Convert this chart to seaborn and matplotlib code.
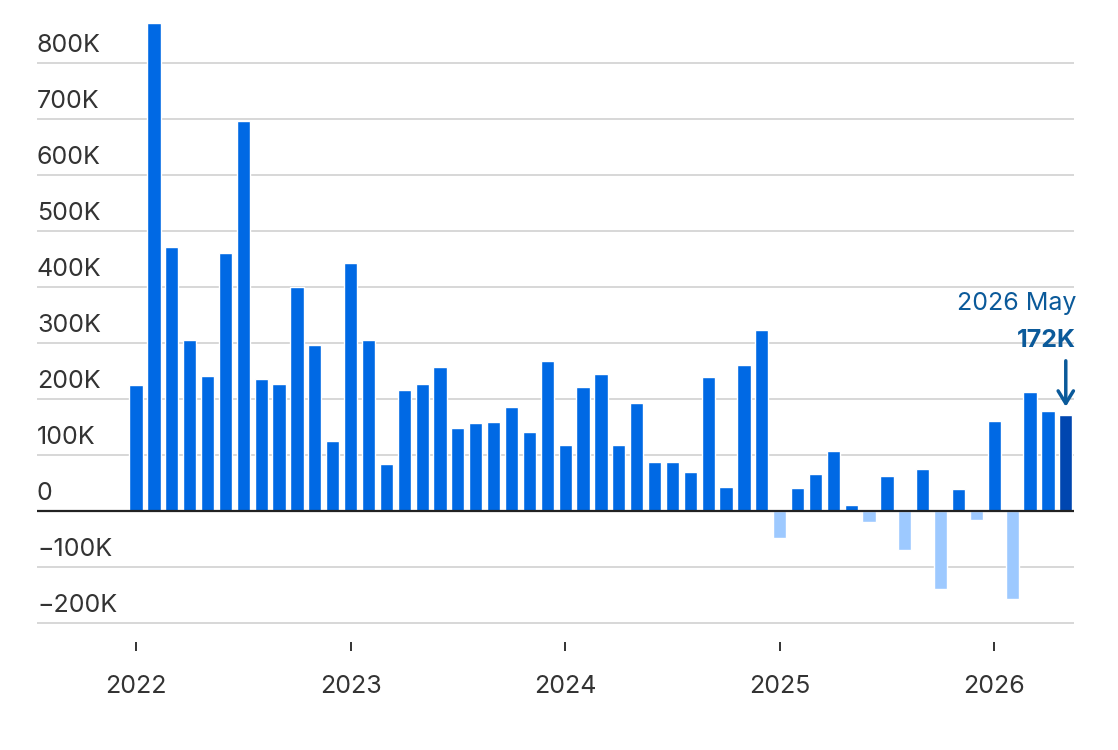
import numpy as np
import pandas as pd
import seaborn as sns
import matplotlib.pyplot as plt
import matplotlib.transforms as mtransforms

# Data (thousands), monthly Jan 2022 - May 2026

months = pd.date_range("2022-01-01", "2026-05-01", freq="MS").strftime("%Y-%m").tolist()
values = [224, 871, 471, 305, 240, 461, 696, 236, 227, 399, 297, 125,
          443, 306, 84, 216, 227, 257, 148, 157, 158, 186, 140, 268,
          118, 221, 245, 118, 193, 87, 88, 70, 239, 43, 261, 323,
          -48, 41, 66, 107, 11, -20, 63, -70, 75, -140, 40, -17,
          160, -157, 213, 178, 172]
y_ticks = [-200, -100, 0, 100, 200, 300, 400, 500, 600, 700, 800]
y_tick_labels = ["\u2212200K", "\u2212100K", "0", "100K", "200K", "300K",
                 "400K", "500K", "600K", "700K", "800K"]
year_ticks = ["2022-01", "2023-01", "2024-01", "2025-01", "2026-01"]
year_labels = ["2022", "2023", "2024", "2025", "2026"]
last_label = "2026 May"
last_value_label = "172K"

POS = "#0069E4"
NEG = "#9DC9FF"
LAST = "#0046B0"
NOTE = "#0B5A9A"
TEXT = "#333333"

df = pd.DataFrame({"month": months, "value": values})
colors = [NEG if v < 0 else POS for v in values]
colors[-1] = LAST

sns.set_style("white")
plt.rcParams["font.family"] = ["Inter", "DejaVu Sans"]

fig = plt.figure(figsize=(11.18, 7.5), dpi=100)
ax = fig.add_axes([37 / 1118, 1 - 642 / 750, (1074 - 37) / 1118, (642 - 23) / 750])

sns.barplot(data=df, x="month", y="value", hue="month", palette=colors,
            legend=False, width=0.74, saturation=1, ax=ax)

ax.set_xlim(-5.54, len(months) - 0.54)
ax.set_ylim(-234, 871)

# gridlines + labels sitting above them
for v, lab in zip(y_ticks, y_tick_labels):
    if v == 0:
        ax.axhline(0, color="#222222", lw=1.6, zorder=3)
    else:
        ax.axhline(v, color="#d4d4d4", lw=1.3, zorder=0)
    ax.annotate(lab, xy=(0, v), xycoords=("axes fraction", "data"),
                xytext=(0, 4.5), textcoords="offset points",
                ha="left", va="bottom", fontsize=18, color=TEXT)

ax.set_yticks([])
ax.set_ylabel("")
ax.set_xlabel("")
ax.set_xticks([months.index(m) for m in year_ticks])
ax.set_xticklabels(year_labels, fontsize=18, color=TEXT)
ax.tick_params(axis="x", length=6.5, width=1.4, color="#333333", pad=17, direction="out")
ax.xaxis.set_ticks_position("bottom")
for s in ax.spines.values():
    s.set_visible(False)

# annotation for the latest month
last_x = len(months) - 1
ax.annotate("", xy=(last_x, 186), xytext=(last_x, 268),
            arrowprops=dict(arrowstyle="->,head_length=0.9,head_width=0.55",
                            color=NOTE, lw=2.5, shrinkA=0, shrinkB=0))
trans = mtransforms.blended_transform_factory(ax.transAxes, ax.transData)
ax.text(1.002, 371, last_label, transform=trans, ha="right", va="center",
        fontsize=18, color=NOTE)
ax.text(1.002, 305, last_value_label, transform=trans, ha="right", va="center",
        fontsize=18, fontweight="bold", color=NOTE)

fig.savefig("out.png", dpi=100)
